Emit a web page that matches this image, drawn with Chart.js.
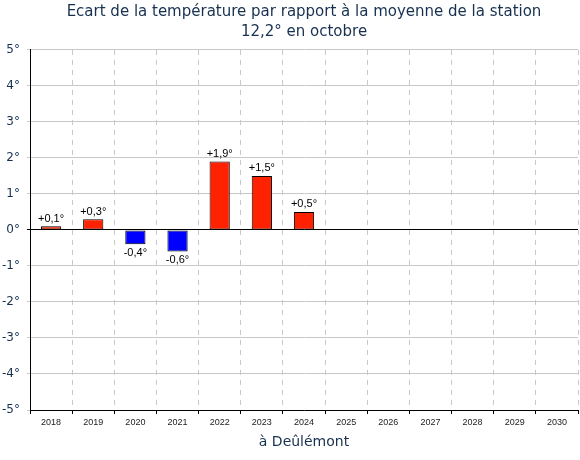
<!DOCTYPE html>
<html><head><meta charset="utf-8">
<script src="https://cdn.jsdelivr.net/npm/chart.js@4"></script>
<style>html,body{margin:0;padding:0;background:#fff}#wrap{width:580px;height:460px}</style>
</head><body><div id="wrap"><canvas id="c"></canvas></div>
<script>
const years = ['2018','2019','2020','2021','2022','2023','2024','2025','2026','2027','2028','2029','2030'];
const ecarts = [0.1, 0.3, -0.4, -0.6, 1.9, 1.5, 0.5, null, null, null, null, null, null];
const titleLines = ['Ecart de la température par rapport à la moyenne de la station', '12,2° en octobre'];
const xTitle = 'à Deûlémont';
const yMin = -5, yMax = 5;

const fmt = v => (v > 0 ? '+' : '') + String(v).replace('.', ',') + '°';

const labelPlugin = {
  id: 'barLabels',
  afterDatasetsDraw(chart) {
    const ctx = chart.ctx;
    const meta = chart.getDatasetMeta(0);
    ctx.save();
    ctx.font = '11px "Liberation Sans", Arial, sans-serif';
    ctx.fillStyle = '#000';
    ctx.textAlign = 'center';
    meta.data.forEach((bar, i) => {
      const v = ecarts[i];
      if (v === null || v === undefined) return;
      if (v >= 0) { ctx.textBaseline = 'bottom'; ctx.fillText(fmt(v), bar.x, bar.y - 2); }
      else { ctx.textBaseline = 'top'; ctx.fillText(fmt(v), bar.x, bar.y + 3); }
    });
    ctx.restore();
  }
};

new Chart(document.getElementById('c'), {
  type: 'bar',
  data: {
    labels: years,
    datasets: [{
      data: ecarts,
      backgroundColor: ecarts.map(v => v !== null && v < 0 ? '#0000ff' : '#ff2200'),
      borderColor: '#000',
      borderWidth: 1,
      borderSkipped: false,
      categoryPercentage: 1,
      barPercentage: 0.48
    }]
  },
  options: {
    responsive: true,
    maintainAspectRatio: false,
    animation: false,
    layout: { padding: { left: 0, right: 2, top: 0, bottom: 0 } },
    plugins: {
      legend: { display: false },
      tooltip: { enabled: false },
      title: {
        display: true,
        fullSize: false,
        text: titleLines,
        color: '#17304f',
        font: { family: '"DejaVu Sans", sans-serif', size: 15, weight: 'normal', lineHeight: 1.33 },
        padding: { top: 2, bottom: 8 }
      }
    },
    scales: {
      x: {
        grid: {
          offset: true,
          color: '#c8c8c8',
          tickColor: '#000',
          tickLength: 4,
          tickBorderDash: [],
          drawOnChartArea: true
        },
        border: { display: true, color: '#000', width: 1, dash: [5, 5] },
        ticks: { color: '#222', font: { family: '"Liberation Sans", Arial, sans-serif', size: 9 }, padding: 3, maxRotation: 0, autoSkip: false },
        title: { display: true, text: xTitle, color: '#17304f', font: { family: '"DejaVu Sans", sans-serif', size: 14 }, padding: { top: 0, bottom: 9 } },
        afterFit(s) { s.height = 50; }
      },
      y: {
        min: yMin, max: yMax,
        grid: {
          color: c => (c.tick && c.tick.value === 0) ? '#000' : '#c8c8c8',
          tickLength: 3
        },
        border: { display: true, color: '#000', width: 1 },
        ticks: { stepSize: 1, color: '#17304f', font: { family: '"DejaVu Sans", sans-serif', size: 12 }, padding: 7, callback: v => v + '°' },
        afterFit(s) { s.width = 30; }
      }
    }
  },
  plugins: [labelPlugin]
});
</script></body></html>
